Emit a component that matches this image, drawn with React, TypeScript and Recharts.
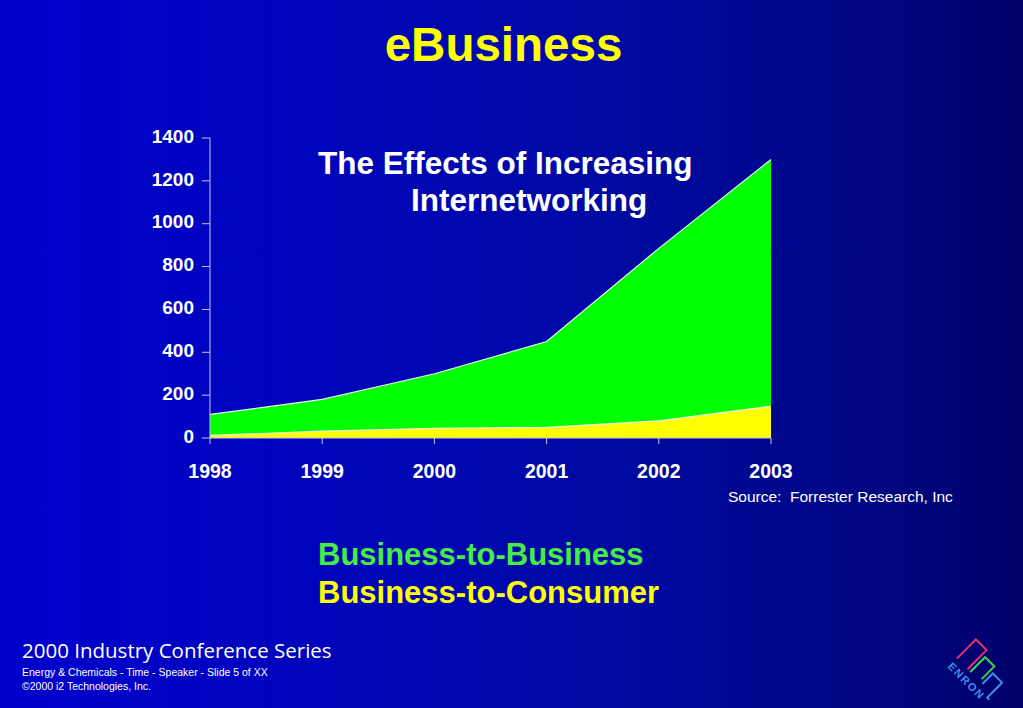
import React from "react"
import {
  AreaChart,
  Area,
  XAxis,
  YAxis,
} from "recharts"

// Forrester Research figures
const years = ["1998", "1999", "2000", "2001", "2002", "2003"]
const businessToBusiness = [110, 180, 300, 450, 885, 1300]
const businessToConsumer = [12, 32, 45, 50, 80, 148]
const yTicks = [0, 200, 400, 600, 800, 1000, 1200, 1400]

const data = years.map((year, i) => ({
  year,
  b2b: businessToBusiness[i],
  b2c: businessToConsumer[i],
}))

const font = "Arial, 'Liberation Sans', sans-serif"

// rough redraw of the corner logo
function EnronLogo() {
  return (
    <svg width={83} height={72} style={{ position: "absolute", left: 940, top: 636 }}>
      <g transform="translate(14 24) rotate(45)" fill="none" strokeWidth={2}>
        <path d="M1 -3 V-30 H16 V-3" stroke="#e8306a" />
        <path d="M20 -3 V-24 H33 V-6" stroke="#36d84a" />
        <path d="M37 -3 V-18 H50 V3 H53" stroke="#3c8ee6" />
        <text x={0} y={10} fill="#3c8ee6" fontSize={11} fontWeight="bold" fontFamily={font} letterSpacing={1.5}>
          ENRON
        </text>
      </g>
    </svg>
  )
}

export default function App() {
  return (
    <div
      style={{
        position: "absolute",
        left: 0,
        top: 0,
        width: 1023,
        height: 708,
        overflow: "hidden",
        fontFamily: font,
        background: "linear-gradient(to right, #0000cd 0%, #0004bc 30%, #000aa2 60%, #000682 85%, #00006a 100%)",
      }}
    >
      <div style={{ position: "absolute", left: 0, width: 1007, top: 17, textAlign: "center", color: "#ffff00", fontSize: 47.5, fontWeight: "bold" }}>
        eBusiness
      </div>

      <AreaChart
        width={660}
        height={380}
        data={data}
        margin={{ top: 18, right: 39, bottom: 12, left: 0 }}
        style={{ position: "absolute", left: 150, top: 120 }}
      >
        <XAxis
          dataKey="year"
          height={50}
          stroke="#c8c8e0"
          tickSize={6}
          tick={{ fill: "#ffffff", fontSize: 19.5, fontWeight: "bold", fontFamily: font, dy: 18 }}
        />
        <YAxis
          width={60}
          domain={[0, 1400]}
          ticks={yTicks}
          stroke="#c8c8e0"
          tickSize={8}
          interval={0}
          tick={{ fill: "#ffffff", fontSize: 19, fontWeight: "bold", fontFamily: font, dx: -6, dy: -2 }}
        />
        <Area
          type="linear"
          dataKey="b2b"
          stroke="#e8f0e8"
          strokeWidth={1.2}
          fill="#00ff00"
          fillOpacity={1}
          isAnimationActive={false}
        />
        <Area
          type="linear"
          dataKey="b2c"
          stroke="#f0f0e0"
          strokeWidth={1.2}
          fill="#ffff00"
          fillOpacity={1}
          isAnimationActive={false}
        />
      </AreaChart>

      <div style={{ position: "absolute", left: 318, top: 145, color: "#fff", fontSize: 31.5, fontWeight: "bold", whiteSpace: "nowrap" }}>
        The Effects of Increasing
      </div>
      <div style={{ position: "absolute", left: 411, top: 182, color: "#fff", fontSize: 31.5, fontWeight: "bold", whiteSpace: "nowrap" }}>
        Internetworking
      </div>

      <div style={{ position: "absolute", left: 728, top: 488, color: "#fff", fontSize: 15.5, whiteSpace: "nowrap" }}>
        Source:&nbsp; Forrester Research, Inc
      </div>

      <div style={{ position: "absolute", left: 318, top: 537, color: "#44ee44", fontSize: 31, fontWeight: "bold", whiteSpace: "nowrap" }}>
        Business-to-Business
      </div>
      <div style={{ position: "absolute", left: 318, top: 575, color: "#ffff00", fontSize: 31, fontWeight: "bold", whiteSpace: "nowrap" }}>
        Business-to-Consumer
      </div>

      <div style={{ position: "absolute", left: 22, top: 636, color: "#fff", fontSize: 20.5, fontFamily: "'Open Sans', 'DejaVu Sans', sans-serif", whiteSpace: "nowrap" }}>
        2000 Industry Conference Series
      </div>
      <div style={{ position: "absolute", left: 22, top: 666, color: "#fff", fontSize: 10.5, whiteSpace: "nowrap" }}>
        Energy &amp; Chemicals - Time - Speaker - Slide 5 of XX
      </div>
      <div style={{ position: "absolute", left: 22, top: 680, color: "#fff", fontSize: 10.5, whiteSpace: "nowrap" }}>
        ©2000 i2 Technologies, Inc.
      </div>

      <EnronLogo />
    </div>
  )
}
